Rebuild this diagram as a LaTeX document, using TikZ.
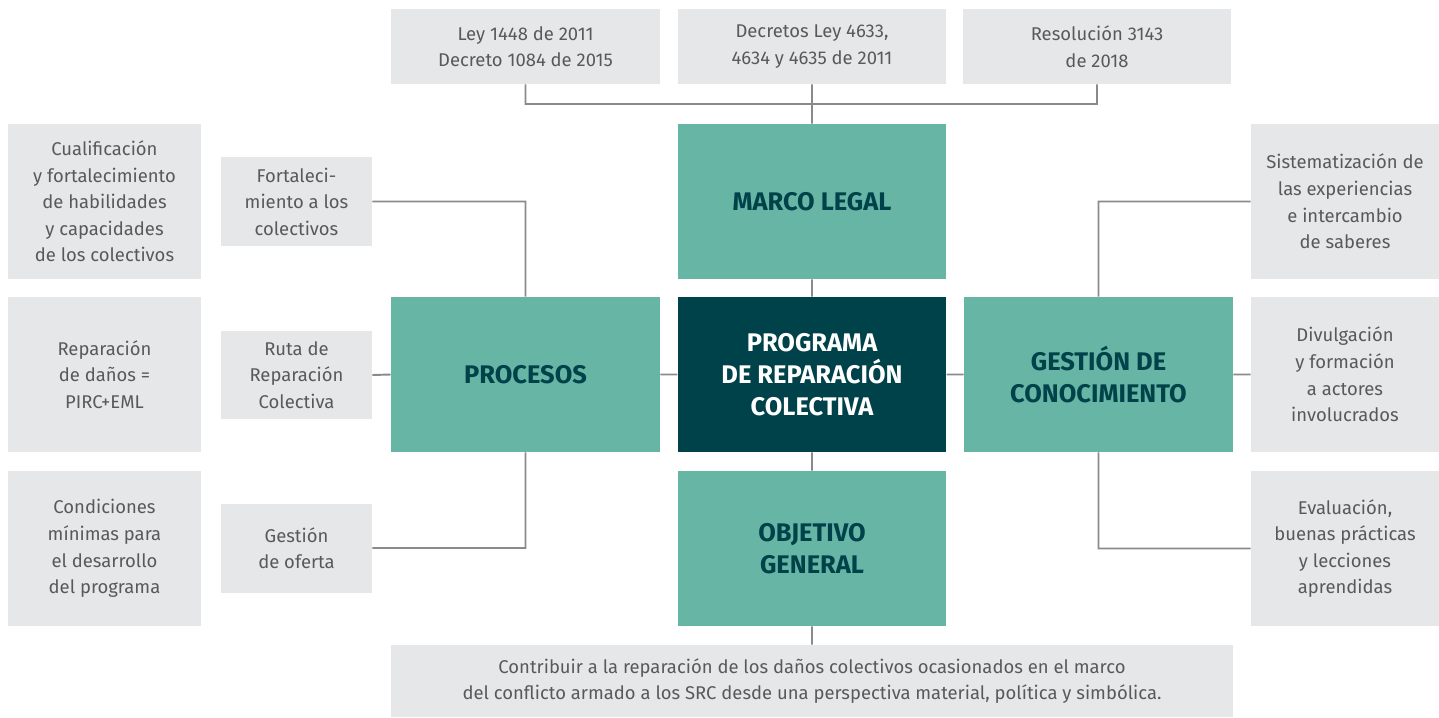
\documentclass[tikz,border=0pt]{standalone}
\usepackage{fontspec}
\setmainfont{Fira Sans}
\usepackage{tikz}
\usetikzlibrary{positioning}
\definecolor{boxgrey}{HTML}{E6E7E8}
\definecolor{txtgrey}{HTML}{58595B}
\definecolor{linegrey}{HTML}{8A8A8A}
\definecolor{teal}{HTML}{67B5A5}
\definecolor{deepteal}{HTML}{00424A}
\begin{document}
\begin{tikzpicture}[x=0.02cm,y=-0.02cm,
    info/.style={fill=boxgrey,text=txtgrey,align=center,inner sep=0pt,
        font=\fontsize{10.5}{15.1}\selectfont},
    pillar/.style={fill=teal,text=deepteal,align=center,inner sep=0pt,
        minimum width=5.37cm,minimum height=3.1cm,
        font=\fontsize{14.5}{18.1}\selectfont\bfseries},
    link/.style={draw=linegrey,line width=1.1pt}]
    \useasboundingbox (0,0) rectangle (1439,717);
    % legal framework
    \node[info,minimum width=5.38cm,minimum height=1.5cm] at (525.5,46.5) (ley) {Ley 1448 de 2011\\Decreto 1084 de 2015};
    \node[info,minimum width=5.36cm,minimum height=1.5cm] at (812,46.5) (decretos) {Decretos Ley 4633,\\4634 y 4635 de 2011};
    \node[info,minimum width=5.36cm,minimum height=1.5cm] at (1097,46.5) (resol) {Resolución 3143\\de 2018};
    \coordinate (bus) at (812,104);
    % central block
    \node[pillar] at (812,201.5) (marco) {MARCO LEGAL};
    \node[pillar,fill=deepteal,text=white] at (812,374.5) (programa) {PROGRAMA\\DE REPARACIÓN\\COLECTIVA};
    \node[pillar] at (812,548.5) (objetivo) {OBJETIVO\\GENERAL};
    \node[pillar,minimum width=5.38cm] at (525.5,374.5) (procesos) {PROCESOS};
    \node[pillar,minimum width=5.38cm] at (1098.5,374.5) (gestion) {GESTIÓN DE\\CONOCIMIENTO};
    \node[info,minimum width=16.84cm,minimum height=1.44cm] at (812,681) (contribuir) {Contribuir a la reparación de los daños colectivos ocasionados en el marco\\del conflicto armado a los SRC desde una perspectiva material, política y simbólica.};
    % processes
    \node[info,minimum width=3.02cm,minimum height=1.78cm] at (296.5,201.5) (fortalec) {Fortaleci-\\miento a los\\colectivos};
    \node[info,minimum width=3.02cm,minimum height=1.78cm] at (296.5,375) (ruta) {Ruta de\\Reparación\\Colectiva};
    \node[info,minimum width=3.02cm,minimum height=1.78cm] at (296.5,548) (oferta) {Gestión\\de oferta};
    \node[info,minimum width=3.86cm,minimum height=3.1cm] at (104.5,201.5) (cualif) {Cualificación\\y fortalecimiento\\de habilidades\\y capacidades\\de los colectivos};
    \node[info,minimum width=3.86cm,minimum height=3.1cm] at (104.5,374.5) (danos) {Reparación\\de daños =\\PIRC+EML};
    \node[info,minimum width=3.86cm,minimum height=3.1cm] at (104.5,548.5) (condic) {Condiciones\\mínimas para\\el desarrollo\\del programa};
    % knowledge
    \node[info,minimum width=3.76cm,minimum height=3.1cm] at (1345,201.5) (sistem) {Sistematización de\\las experiencias\\e intercambio\\de saberes};
    \node[info,minimum width=3.76cm,minimum height=3.1cm] at (1345,374.5) (divulg) {Divulgación\\y formación\\a actores\\involucrados};
    \node[info,minimum width=3.76cm,minimum height=3.1cm] at (1345,548.5) (evalua) {Evaluación,\\buenas prácticas\\y lecciones\\aprendidas};
    \path[link]
    (ley.south) |- (bus) -| (resol.south)
    (decretos.south) -- (marco.north)
    (marco.south) -- (programa.north)
    (programa.south) -- (objetivo.north)
    (objetivo.south) -- (contribuir.north)
    (procesos.east) -- (programa.west)
    (programa.east) -- (gestion.west)
    (fortalec.east) -| (procesos.north)
    (ruta.east) -- (procesos.west)
    (oferta.east) -| (procesos.south)
    (sistem.west) -| (gestion.north)
    (divulg.west) -- (gestion.east)
    (evalua.west) -| (gestion.south)
    ;
\end{tikzpicture}
\end{document}
